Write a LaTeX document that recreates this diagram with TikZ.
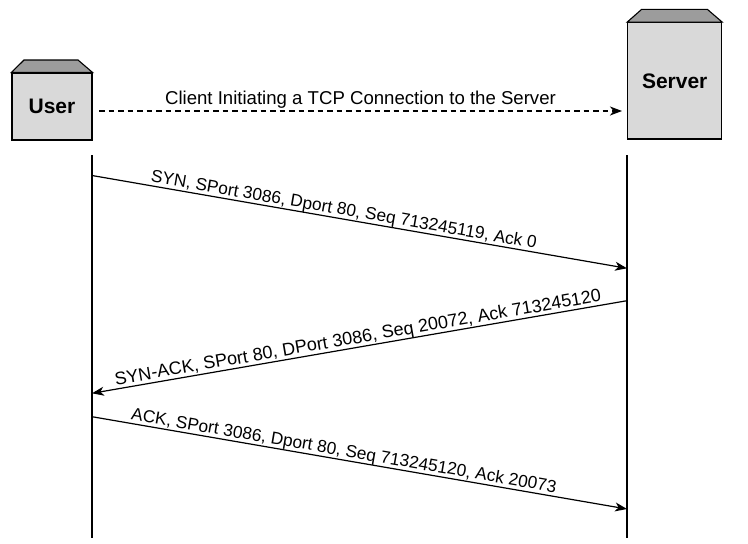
\documentclass[tikz,border=0pt]{standalone}
\usepackage{fontspec}
\setmainfont{Liberation Sans}
\usetikzlibrary{arrows.meta}
\definecolor{boxfill}{HTML}{D9D9D9}
\definecolor{capfill}{HTML}{9C9C9C}
\begin{document}
\begin{tikzpicture}[x=1pt,y=-1pt,
  actor/.style={draw=black,line width=1.1pt,fill=boxfill,inner sep=0pt,
    font=\fontsize{21}{24}\selectfont\bfseries},
  capshape/.style={draw=black,line width=1.1pt,fill=capfill,line join=miter},
  lifeline/.style={line width=1.3pt},
  tip/.style={-{Stealth[length=12pt,width=9pt,inset=3.5pt]}},
  msg/.style={line width=1.2pt,tip},
  msglabel/.style={sloped,above,inner sep=0pt,font=\fontsize{17.3}{21}\selectfont},
  dasharrow/.style={line width=1.2pt,dash pattern=on 5.5pt off 4pt,tip}
]
\useasboundingbox (0,0) rectangle (748,544);
% actors
\node[actor,minimum width=80pt,minimum height=67pt] (uu) at (52,106.5) {User};
\node[actor,minimum width=94pt,minimum height=116.3pt] (ss) at (674.7,80.85) {Server};
\draw[capshape] (uu.north west) -- (24,60) -- (78,60) -- (uu.north east) -- cycle;
\draw[capshape] (ss.north west) -- (641.7,9.3) -- (707.3,9.3) -- (ss.north east) -- cycle;
% dashed connection arrow
\coordinate (da) at (99,111);
\coordinate (db) at (622,111);
\draw[dasharrow] (da) -- (db);
\node[anchor=base,inner sep=0pt,font=\fontsize{18.6}{21}\selectfont] (dl) at (360.5,104) {Client Initiating a TCP Connection to the Server};
% lifelines
\coordinate (ut) at (92,155);
\coordinate (ub) at (92,537.7);
\coordinate (st) at (627,155);
\coordinate (sb) at (627,537.7);
\draw[lifeline] (ut) -- (ub);
\draw[lifeline] (st) -- (sb);
% message points
\coordinate (u1) at (92,175.5);
\coordinate (s1) at (627,268.3);
\coordinate (s2) at (627,300.7);
\coordinate (u2) at (92,393.3);
\coordinate (u3) at (92,416.7);
\coordinate (s3) at (627,509);
% messages
\draw[msg] (u1) -- (s1);
\path (u1) -- (s1) node[msglabel,pos=0.468] (m1) {SYN, SPort 3086, Dport 80, Seq 713245119, Ack 0};
\draw[msg] (s2) -- (u2);
\path (u2) -- (s2) node[msglabel,pos=0.5,font=\fontsize{18}{21}\selectfont] (m2) {SYN-ACK, SPort 80, DPort 3086, Seq 20072, Ack 713245120};
\draw[msg] (u3) -- (s3);
\path (u3) -- (s3) node[msglabel,pos=0.468] (m3) {ACK, SPort 3086, Dport 80, Seq 713245120, Ack 20073};
\end{tikzpicture}
\end{document}
